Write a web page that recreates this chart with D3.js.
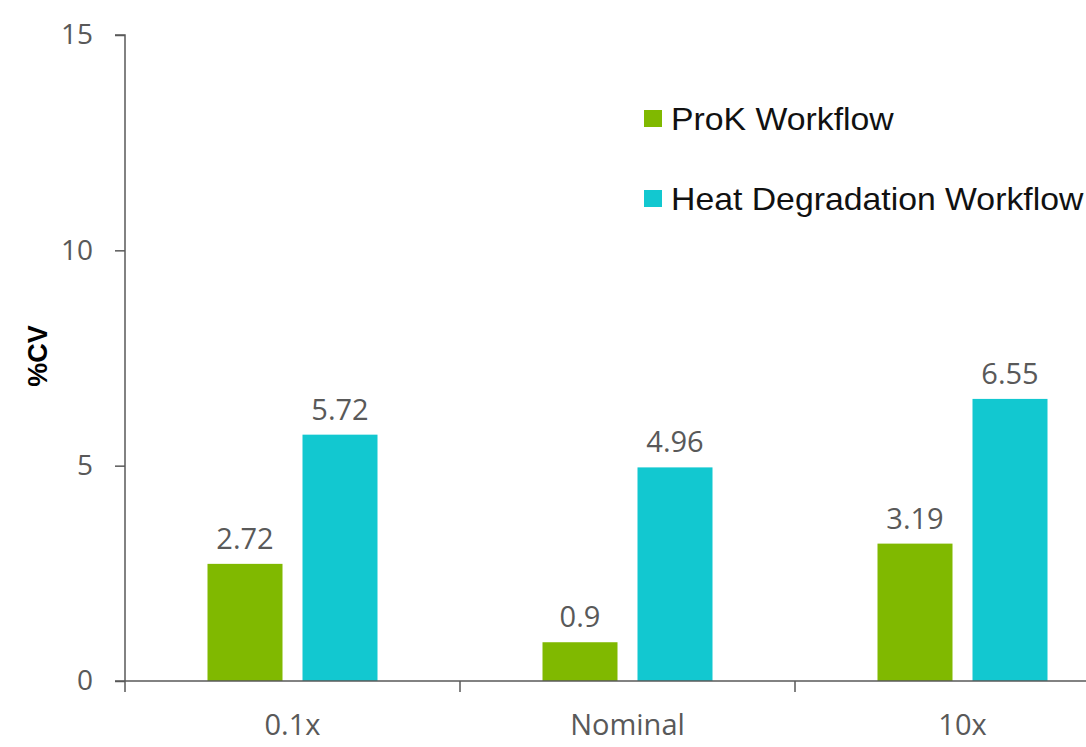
<!DOCTYPE html>
<html>
<head>
<meta charset="utf-8">
<script src="https://cdn.jsdelivr.net/npm/d3@7"></script>
<style>
  html, body { margin: 0; padding: 0; background: #fff; }
  svg { display: block; }
</style>
</head>
<body>
<svg id="chart" width="1086" height="747"></svg>
<script>
// Dose levels along the x axis
const categories = ["0.1x", "Nominal", "10x"];
// Workflow series
const seriesNames = ["ProK Workflow", "Heat Degradation Workflow"];
const prokValues = [2.72, 0.9, 3.19];
const heatValues = [5.72, 4.96, 6.55];
const yTicks = [0, 5, 10, 15];
const yLabel = "%CV";

const colors = { "ProK Workflow": "#80b900", "Heat Degradation Workflow": "#12c8d0" };
const valuesBySeries = { "ProK Workflow": prokValues, "Heat Degradation Workflow": heatValues };

const svg = d3.select("#chart");
const axisColor = "#595959";
const numFont = "'Open Sans', 'Noto Sans', sans-serif";

const x0 = d3.scaleBand().domain(categories).range([125, 1130]).paddingInner(0).paddingOuter(0);
const groupHalf = 85;
const x1 = d3.scaleBand().domain(seriesNames)
  .range([x0.bandwidth() / 2 - groupHalf, x0.bandwidth() / 2 + groupHalf])
  .paddingInner(0.2105).paddingOuter(0);
const y = d3.scaleLinear().domain([0, 15]).range([681, 35]);

// Bars
const groups = svg.append("g").selectAll("g")
  .data(categories)
  .join("g")
  .attr("transform", d => `translate(${x0(d)},0)`);

groups.selectAll("rect")
  .data((c, i) => seriesNames.map(s => ({ s, v: valuesBySeries[s][i] })))
  .join("rect")
  .attr("x", d => x1(d.s))
  .attr("width", x1.bandwidth())
  .attr("y", d => y(d.v))
  .attr("height", d => y(0) - y(d.v))
  .attr("fill", d => colors[d.s]);

// Value labels above bars
groups.selectAll("text.val")
  .data((c, i) => seriesNames.map(s => ({ s, v: valuesBySeries[s][i] })))
  .join("text")
  .attr("class", "val")
  .attr("x", d => x1(d.s) + x1.bandwidth() / 2)
  .attr("y", d => y(d.v) - 15)
  .attr("text-anchor", "middle")
  .attr("font-family", numFont)
  .attr("font-size", 29)
  .attr("fill", axisColor)
  .text(d => d.v);

// Y axis
const yAxis = svg.append("g")
  .attr("transform", "translate(125,0)")
  .call(d3.axisLeft(y).tickValues(yTicks).tickSize(10).tickPadding(22).tickFormat(d3.format("d")));
yAxis.select(".domain").attr("stroke", axisColor).attr("stroke-width", 1.5).attr("d", "M-10,35H0V681");
yAxis.selectAll(".tick line").attr("stroke", axisColor).attr("stroke-width", 1.5);
yAxis.selectAll(".tick text").attr("font-family", numFont).attr("font-size", 28).attr("fill", axisColor);

// X axis with ticks at category boundaries
const boundaries = categories.map(c => x0(c)).concat([x0(categories[categories.length - 1]) + x0.bandwidth()]);
const xAxisG = svg.append("g").attr("transform", "translate(0,681)");
xAxisG.append("line")
  .attr("x1", 115).attr("x2", 1130).attr("y1", 0).attr("y2", 0)
  .attr("stroke", axisColor).attr("stroke-width", 1.5);
xAxisG.selectAll("line.tick")
  .data(boundaries)
  .join("line")
  .attr("class", "tick")
  .attr("x1", d => d).attr("x2", d => d)
  .attr("y1", 0).attr("y2", 11)
  .attr("stroke", axisColor).attr("stroke-width", 1.5);
xAxisG.selectAll("text")
  .data(categories)
  .join("text")
  .attr("x", d => x0(d) + x0.bandwidth() / 2)
  .attr("y", 54)
  .attr("text-anchor", "middle")
  .attr("font-family", numFont)
  .attr("font-size", 29)
  .attr("fill", axisColor)
  .text(d => d);

// Y axis title
svg.append("text")
  .attr("transform", "translate(47,356) rotate(-90)")
  .attr("text-anchor", "middle")
  .attr("font-family", "'Liberation Sans', Arial, sans-serif")
  .attr("font-weight", "bold")
  .attr("font-size", 27)
  .attr("fill", "#000")
  .text(yLabel);

// Legend
const legend = svg.append("g").selectAll("g")
  .data(seriesNames)
  .join("g")
  .attr("transform", (d, i) => `translate(644,${110 + i * 80})`);
legend.append("rect")
  .attr("width", 18).attr("height", 17)
  .attr("fill", d => colors[d]);
legend.append("text")
  .attr("transform", "translate(27,20) scale(1.09,1)")
  .attr("font-family", "'Liberation Sans', Arial, sans-serif")
  .attr("font-size", 31)
  .attr("fill", "#111")
  .text(d => d);
</script>
</body>
</html>
